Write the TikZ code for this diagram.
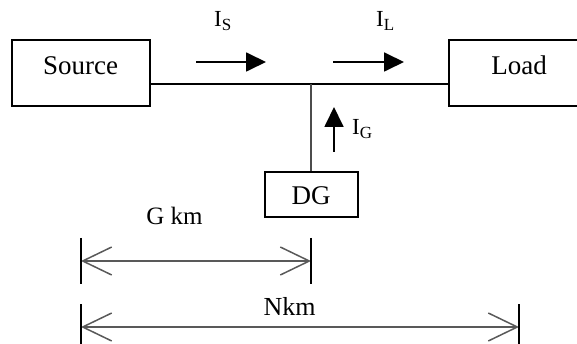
\documentclass[tikz,border=0pt]{standalone}
\usepackage{fontspec}
\setmainfont{Liberation Serif}
\usetikzlibrary{arrows.meta}
\tikzset{
  box/.style={draw=black, line width=1.8pt, rectangle, inner sep=0pt},
  boxtext/.style={anchor=base, inner sep=0pt, font=\fontsize{27}{30}\selectfont},
  curlabel/.style={anchor=base west, inner sep=0pt, font=\fontsize{23}{26}\selectfont},
  curarrow/.style={line width=1.8pt, -{Triangle[length=20pt,width=19pt]}},
  wire/.style={line width=1.4pt, black},
  dimline/.style={line width=1.5pt, draw=black!65, {Straight Barb[length=29pt,width=28pt]}-{Straight Barb[length=29pt,width=28pt]}},
  tickline/.style={line width=1.8pt, black},
  dimtext/.style={anchor=base, inner sep=0pt, font=\fontsize{25}{28}\selectfont}
}
\newcommand{\subtxt}[1]{\raisebox{-4pt}{\fontsize{17}{18}\selectfont #1}}
\begin{document}
\begin{tikzpicture}[x=1pt,y=-1pt]
\useasboundingbox (0,0) rectangle (577,344);
% boxes
\node[box, minimum width=138pt, minimum height=66pt] (src) at (81,73) {};
\node[boxtext] (srct) at (80.5,75) {Source};
\node[box, minimum width=131pt, minimum height=66pt] (load) at (514.5,73) {};
\node[boxtext] (loadt) at (519,75) {Load};
\node[box, minimum width=93pt, minimum height=45pt] (dg) at (311.5,194.5) {};
\node[boxtext] (dgt) at (311,205) {DG};
% wires
\coordinate (j) at (311,84);
\draw[wire] (src.east |- j) -- (load.west |- j);
\draw[line width=1.4pt, black!70] (j) -- (dg.north -| j);
% current arrows
\coordinate (isa) at (196,62); \coordinate (isb) at (266,62);
\draw[curarrow] (isa) -- (isb);
\coordinate (ila) at (333,62); \coordinate (ilb) at (404,62);
\draw[curarrow] (ila) -- (ilb);
\coordinate (iga) at (334,152); \coordinate (igb) at (334,107);
\draw[curarrow] (iga) -- (igb);
\node[curlabel] (is) at (214,27) {I\subtxt{S}};
\node[curlabel] (il) at (376,27) {I\subtxt{L}};
\node[curlabel] (ig) at (352,135) {I\subtxt{G}};
% dimensions
\coordinate (g1) at (81,261); \coordinate (g2) at (311,261);
\draw[dimline] (g1) -- (g2);
\draw[tickline] (g1) ++(0,-23) -- ++(0,46);
\draw[tickline] (g2) ++(0,-23) -- ++(0,46);
\node[dimtext] (gkm) at (174.5,225) {G km};
\coordinate (n1) at (81,327); \coordinate (n2) at (519,327);
\draw[dimline] (n1) -- (n2);
\draw[tickline] (n1) ++(0,-23) -- ++(0,46);
\draw[tickline] (n2) ++(0,-23) -- ++(0,46);
\node[dimtext, font=\fontsize{26}{28}\selectfont] (nkm) at (289.5,315) {Nkm};
\end{tikzpicture}
\end{document}
